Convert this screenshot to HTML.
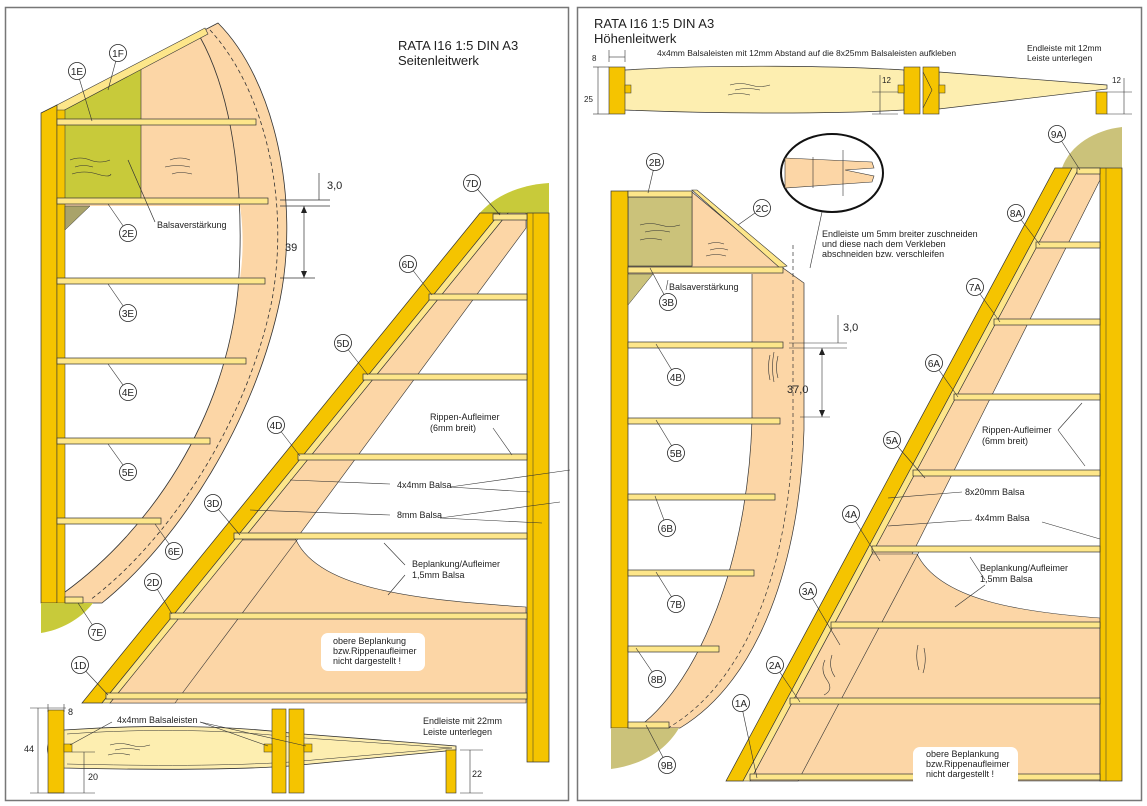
<!DOCTYPE html>
<html><head><meta charset="utf-8"><style>
html,body{margin:0;padding:0;background:#fff}
svg{display:block}
text{font-family:"Liberation Sans",sans-serif;fill:#222}
.l{font-size:9px}
.c{font-size:10px;text-anchor:middle}
</style></head><body>
<svg width="1147" height="806" viewBox="0 0 1147 806" xmlns="http://www.w3.org/2000/svg">
<defs>
<g id="ci"><circle r="8.5" fill="#fff" stroke="#222" stroke-width="0.8"/></g>
</defs>
<rect x="5.5" y="7.5" width="563" height="793" fill="#fff" stroke="#777" stroke-width="1.5"/>
<rect x="577.5" y="7.5" width="564" height="793" fill="#fff" stroke="#777" stroke-width="1.5"/>

<!-- ===== LEFT PANEL: FIN ===== -->
<text x="398" y="50" style="font-size:13px">RATA I16 1:5  DIN A3</text>
<text x="398" y="65" style="font-size:13px">Seitenleitwerk</text>

<path d="M57,107 L218,23 C275,80 300,200 280,300 C255,420 180,540 102,603 L57,603 Z" fill="#fcd6a6" stroke="#333" stroke-width="0.8"/>
<path d="M65,206 L240,206 C245,240 242,270 238,290 C225,420 150,530 65,592 Z" fill="#fff"/>
<path d="M200,37 C235,100 245,200 238,290 C225,420 150,530 65,592" fill="none" stroke="#333" stroke-width="0.8"/>
<path d="M210,30 C265,90 290,200 272,300 C248,420 170,540 90,600" fill="none" stroke="#333" stroke-width="0.8" stroke-dasharray="4,3"/>
<polygon points="57,112 141,68 141,200 57,200" fill="#c8ca3a" stroke="#333" stroke-width="0.6"/>
<polygon points="55,106 205,28 208,34 57,114" fill="#fde68a" stroke="#333" stroke-width="0.6"/>
<polygon points="41,113 57,105 57,603 41,603" fill="#f5c400" stroke="#333" stroke-width="0.7"/>
<rect x="57" y="110" width="8" height="493" fill="#f5c400" stroke="#333" stroke-width="0.5"/>
<polygon points="65,206 90,206 65,230" fill="#a9a36a" stroke="#333" stroke-width="0.5"/>
<path d="M41,603 L93,603 C80,620 60,630 41,633 Z" fill="#c8ca3a"/>
<g fill="#fde68a" stroke="#333" stroke-width="0.7">
<rect x="57" y="119" width="199" height="6"/>
<rect x="57" y="198" width="211" height="6"/>
<rect x="57" y="278" width="208" height="6"/>
<rect x="57" y="358" width="189" height="6"/>
<rect x="57" y="438" width="153" height="6"/>
<rect x="57" y="518" width="104" height="6"/>
<rect x="65" y="597" width="18" height="6"/>
</g>
<g fill="none" stroke="#333" stroke-width="0.6">
<path d="M70,160 q10,-4 20,0 t20,0 M75,167 q8,-3 18,0 M72,174 q12,-4 25,0 t14,0 M170,160 q10,-4 20,0 M165,167 q12,-3 25,0 M172,174 q8,-3 20,0"/>
</g>
<text x="157" y="228" class="l">Balsaverstärkung</text>
<g stroke="#333" stroke-width="0.7" fill="none">
<line x1="128" y1="160" x2="155" y2="222"/>
<line x1="280" y1="200" x2="330" y2="200"/><line x1="280" y1="206" x2="330" y2="206"/>
<line x1="319" y1="173" x2="319" y2="200"/>
<line x1="304" y1="206" x2="304" y2="278"/><line x1="280" y1="278" x2="315" y2="278"/>
</g>
<path d="M304,206 l-3,7 h6 Z M304,278 l-3,-7 h6 Z" fill="#222"/>
<text x="327" y="189" style="font-size:11px">3,0</text>
<text x="285" y="251" style="font-size:11px">39</text>

<!-- leaders and circles fin -->
<g stroke="#333" stroke-width="0.6">
<line x1="118" y1="53" x2="108" y2="90"/><line x1="77" y1="71" x2="92" y2="121"/>
<line x1="128" y1="233" x2="108" y2="204"/><line x1="128" y1="313" x2="108" y2="284"/>
<line x1="128" y1="392" x2="108" y2="364"/><line x1="128" y1="472" x2="108" y2="444"/>
<line x1="174" y1="551" x2="155" y2="524"/><line x1="97" y1="632" x2="78" y2="603"/>
</g>
<use href="#ci" x="118" y="53"/><text x="118" y="57" class="c">1F</text>
<use href="#ci" x="77" y="71"/><text x="77" y="75" class="c">1E</text>
<use href="#ci" x="128" y="233"/><text x="128" y="237" class="c">2E</text>
<use href="#ci" x="128" y="313"/><text x="128" y="317" class="c">3E</text>
<use href="#ci" x="128" y="392"/><text x="128" y="396" class="c">4E</text>
<use href="#ci" x="128" y="472"/><text x="128" y="476" class="c">5E</text>
<use href="#ci" x="174" y="551"/><text x="174" y="555" class="c">6E</text>
<use href="#ci" x="97" y="632"/><text x="97" y="636" class="c">7E</text>

<!-- ===== LEFT PANEL: RUDDER ===== -->
<path d="M478,215 C495,195 520,185 549,183 L549,215 Z" fill="#c8ca3a"/>
<polygon points="110,703 175,703 526,228 526,213 508,213" fill="#fcd6a6" stroke="#333" stroke-width="0.6"/>
<path d="M242,540 L296,540 C320,590 420,600 526,607 L526,703 L110,703 Z" fill="#fcd6a6" stroke="#333" stroke-width="0.6"/>
<line x1="175" y1="703" x2="300" y2="536" stroke="#333" stroke-width="0.6"/>
<polygon points="82,703 102,703 500,213 480,213" fill="#f5c400" stroke="#333" stroke-width="0.7"/>
<polygon points="102,703 110,703 508,213 500,213" fill="#fde68a" stroke="#333" stroke-width="0.6"/>
<rect x="527" y="213" width="22" height="549" fill="#f5c400" stroke="#333" stroke-width="0.7"/>
<line x1="533" y1="213" x2="533" y2="762" stroke="#333" stroke-width="0.5"/>
<g fill="#fde68a" stroke="#333" stroke-width="0.7">
<rect x="493" y="214" width="34" height="6"/>
<rect x="429" y="294" width="98" height="6"/>
<rect x="363" y="374" width="164" height="6"/>
<rect x="298" y="454" width="229" height="6"/>
<rect x="234" y="533" width="293" height="6"/>
<rect x="170" y="613" width="357" height="6"/>
<rect x="106" y="693" width="421" height="6"/>
</g>
<g stroke="#333" stroke-width="0.6">
<line x1="472" y1="183" x2="500" y2="215"/><line x1="408" y1="264" x2="432" y2="295"/>
<line x1="343" y1="343" x2="368" y2="375"/><line x1="276" y1="425" x2="300" y2="456"/>
<line x1="213" y1="503" x2="240" y2="535"/><line x1="153" y1="582" x2="172" y2="614"/>
<line x1="80" y1="665" x2="108" y2="695"/>
<line x1="493" y1="428" x2="512" y2="455"/>
<line x1="290" y1="480" x2="390" y2="484"/><line x1="450" y1="487" x2="530" y2="492"/><line x1="450" y1="487" x2="570" y2="470"/>
<line x1="250" y1="510" x2="390" y2="515"/><line x1="440" y1="518" x2="542" y2="523"/><line x1="440" y1="518" x2="560" y2="502"/>
<line x1="384" y1="543" x2="405" y2="565"/><line x1="405" y1="575" x2="388" y2="595"/>
</g>
<use href="#ci" x="472" y="183"/><text x="472" y="187" class="c">7D</text>
<use href="#ci" x="408" y="264"/><text x="408" y="268" class="c">6D</text>
<use href="#ci" x="343" y="343"/><text x="343" y="347" class="c">5D</text>
<use href="#ci" x="276" y="425"/><text x="276" y="429" class="c">4D</text>
<use href="#ci" x="213" y="503"/><text x="213" y="507" class="c">3D</text>
<use href="#ci" x="153" y="582"/><text x="153" y="586" class="c">2D</text>
<use href="#ci" x="80" y="665"/><text x="80" y="669" class="c">1D</text>
<text x="430" y="420" class="l">Rippen-Aufleimer</text>
<text x="430" y="431" class="l">(6mm breit)</text>
<text x="397" y="488" class="l">4x4mm Balsa</text>
<text x="397" y="518" class="l">8mm Balsa</text>
<text x="412" y="567" class="l">Beplankung/Aufleimer</text>
<text x="412" y="578" class="l">1,5mm Balsa</text>
<rect x="321" y="633" width="104" height="38" rx="7" fill="#fff"/>
<text x="333" y="644" class="l">obere Beplankung</text>
<text x="333" y="654" class="l">bzw.Rippenaufleimer</text>
<text x="333" y="664" class="l">nicht dargestellt !</text>

<!-- bottom airfoil left -->
<path d="M64,730 C150,724 230,726 290,733 L456,746 L456,750 L290,766 C230,770 150,770 64,768 C42,760 42,738 64,730 Z" fill="#fdeeb0" stroke="#333" stroke-width="0.8"/>
<path d="M67,734 C150,728 230,730 290,737 L452,748 L290,762 C230,766 150,766 67,764" fill="none" stroke="#333" stroke-width="0.5"/>
<rect x="48" y="710" width="16" height="83" fill="#f5c400" stroke="#333" stroke-width="0.6"/>
<rect x="64" y="744" width="8" height="8" fill="#f5c400" stroke="#333" stroke-width="0.5"/>
<rect x="272" y="709" width="14" height="84" fill="#f5c400" stroke="#333" stroke-width="0.6"/>
<rect x="289" y="709" width="15" height="84" fill="#f5c400" stroke="#333" stroke-width="0.6"/>
<rect x="264" y="744" width="8" height="8" fill="#f5c400" stroke="#333" stroke-width="0.5"/>
<rect x="304" y="744" width="8" height="8" fill="#f5c400" stroke="#333" stroke-width="0.5"/>
<rect x="446" y="750" width="10" height="43" fill="#f5c400" stroke="#333" stroke-width="0.6"/>
<g stroke="#333" stroke-width="0.6" fill="none">
<path d="M110,745 q10,-3 20,0 t20,0 M115,750 q12,-3 25,0 M108,755 q10,-3 22,0"/>
<line x1="30" y1="708" x2="48" y2="708"/><line x1="30" y1="793" x2="95" y2="793"/>
<line x1="38" y1="708" x2="38" y2="793"/>
<line x1="48" y1="704" x2="48" y2="712"/><line x1="64" y1="704" x2="64" y2="712"/><line x1="48" y1="708" x2="66" y2="708"/>
<line x1="72" y1="752" x2="95" y2="752"/><line x1="84" y1="752" x2="84" y2="793"/>
<line x1="460" y1="750" x2="483" y2="750"/><line x1="460" y1="793" x2="483" y2="793"/><line x1="470" y1="750" x2="470" y2="793"/>
<line x1="112" y1="722" x2="70" y2="745"/><line x1="200" y1="722" x2="268" y2="746"/><line x1="200" y1="722" x2="306" y2="746"/>
</g>
<text x="24" y="752" class="l">44</text>
<text x="68" y="715" class="l">8</text>
<text x="88" y="780" class="l">20</text>
<text x="472" y="777" class="l">22</text>
<text x="117" y="723" class="l">4x4mm Balsaleisten</text>
<text x="423" y="724" class="l">Endleiste mit 22mm</text>
<text x="423" y="735" class="l">Leiste unterlegen</text>

<!-- ===== RIGHT PANEL ===== -->
<text x="594" y="28" style="font-size:13px">RATA I16 1:5  DIN A3</text>
<text x="594" y="43" style="font-size:13px">Höhenleitwerk</text>
<text x="657" y="56" style="font-size:8.5px">4x4mm Balsaleisten mit 12mm Abstand auf die 8x25mm Balsaleisten aufkleben</text>
<text x="1027" y="51" style="font-size:8.5px">Endleiste mit 12mm</text>
<text x="1027" y="61" style="font-size:8.5px">Leiste unterlegen</text>

<!-- top airfoil right -->
<path d="M625,70 C720,64 840,66 904,70 L904,110 C840,114 720,114 625,110 C605,100 605,80 625,70 Z" fill="#fdeeb0" stroke="#333" stroke-width="0.7"/>
<path d="M939,72 L1107,85 L1107,89 L939,109 Z" fill="#fdeeb0" stroke="#333" stroke-width="0.7"/>
<rect x="609" y="67" width="16" height="47" fill="#f5c400" stroke="#333" stroke-width="0.6"/>
<rect x="625" y="85" width="6" height="8" fill="#f5c400" stroke="#333" stroke-width="0.5"/>
<rect x="904" y="67" width="16" height="47" fill="#f5c400" stroke="#333" stroke-width="0.6"/>
<rect x="923" y="67" width="16" height="47" fill="#f5c400" stroke="#333" stroke-width="0.6"/>
<rect x="898" y="85" width="6" height="8" fill="#f5c400" stroke="#333" stroke-width="0.5"/>
<rect x="939" y="85" width="6" height="8" fill="#f5c400" stroke="#333" stroke-width="0.5"/>
<path d="M923,72 L932,90 L923,108" fill="none" stroke="#333" stroke-width="0.6"/>
<rect x="1096" y="92" width="11" height="22" fill="#f5c400" stroke="#333" stroke-width="0.6"/>
<g stroke="#333" stroke-width="0.6" fill="none">
<path d="M730,85 q10,-3 20,0 t20,0 M735,90 q12,-3 25,0 M728,95 q10,-3 22,0"/>
<line x1="609" y1="50" x2="609" y2="62"/><line x1="625" y1="50" x2="625" y2="62"/><line x1="609" y1="57" x2="625" y2="57"/>
<line x1="593" y1="67" x2="609" y2="67"/><line x1="593" y1="114" x2="609" y2="114"/><line x1="598" y1="67" x2="598" y2="114"/>
<line x1="872" y1="92" x2="898" y2="92"/><line x1="872" y1="114" x2="898" y2="114"/><line x1="880" y1="75" x2="880" y2="114"/>
<line x1="1107" y1="92" x2="1132" y2="92"/><line x1="1107" y1="114" x2="1132" y2="114"/><line x1="1124" y1="78" x2="1124" y2="114"/>
</g>
<text x="592" y="61" style="font-size:8px">8</text>
<text x="584" y="102" style="font-size:8px">25</text>
<text x="882" y="83" style="font-size:8px">12</text>
<text x="1112" y="83" style="font-size:8px">12</text>

<!-- circle detail -->
<ellipse cx="832" cy="173" rx="51" ry="39" fill="#fff" stroke="#111" stroke-width="2"/>
<polygon points="785,158 872,162 874,168 845,170 874,176 872,182 785,188" fill="#fcd6a6" stroke="#333" stroke-width="0.6"/>
<line x1="813" y1="157" x2="813" y2="188" stroke="#333" stroke-width="0.6"/>
<line x1="843" y1="150" x2="843" y2="196" stroke="#333" stroke-width="0.6"/>
<line x1="822" y1="212" x2="810" y2="268" stroke="#333" stroke-width="0.6"/>
<text x="822" y="237" class="l">Endleiste um 5mm breiter zuschneiden</text>
<text x="822" y="247" class="l">und diese nach dem Verkleben</text>
<text x="822" y="257" class="l">abschneiden bzw. verschleifen</text>

<!-- elevator B -->
<path d="M692,192 L783,268 L804,283 L804,430 C800,560 760,680 680,728 L628,728 L628,266 L692,266 Z" fill="#fcd6a6" stroke="#333" stroke-width="0.7"/>
<path d="M628,274 L752,274 L752,420 C748,560 700,680 640,726 L628,726 Z" fill="#fff"/>
<path d="M752,274 L752,420 C748,560 700,680 640,726" fill="none" stroke="#333" stroke-width="0.7"/>
<path d="M793,245 L793,430 C790,560 750,680 668,728" fill="none" stroke="#333" stroke-width="0.7" stroke-dasharray="4,3"/>
<rect x="628" y="197" width="64" height="69" fill="#cbc27a" stroke="#333" stroke-width="0.6"/>
<polygon points="692,190 697,190 787,266 780,268" fill="#fde68a" stroke="#333" stroke-width="0.6"/>
<rect x="611" y="191" width="17" height="537" fill="#f5c400" stroke="#333" stroke-width="0.7"/>
<polygon points="628,274 653,274 628,305" fill="#cbc27a" stroke="#333" stroke-width="0.5"/>
<path d="M611,728 L679,728 C665,752 640,765 611,769 Z" fill="#cbc27a"/>
<g fill="#fde68a" stroke="#333" stroke-width="0.7">
<rect x="628" y="191" width="64" height="6"/>
<rect x="628" y="267" width="155" height="6"/>
<rect x="628" y="342" width="155" height="6"/>
<rect x="628" y="418" width="152" height="6"/>
<rect x="628" y="494" width="147" height="6"/>
<rect x="628" y="570" width="126" height="6"/>
<rect x="628" y="646" width="91" height="6"/>
<rect x="628" y="722" width="41" height="6"/>
</g>
<g stroke="#333" stroke-width="0.6" fill="none">
<path d="M640,225 q10,-3 20,0 t20,0 M645,232 q12,-3 25,0 M640,240 q10,-3 22,0 M708,244 q8,-3 16,0 M710,250 q10,-3 18,0 M706,256 q10,-3 20,0"/>
<path d="M770,355 q-3,12 0,25 M774,352 q-3,15 0,30 M778,356 q-3,12 0,22"/>
<line x1="789" y1="343" x2="847" y2="343"/><line x1="789" y1="348" x2="847" y2="348"/>
<line x1="838" y1="315" x2="838" y2="343"/>
<line x1="822" y1="348" x2="822" y2="417"/><line x1="800" y1="417" x2="830" y2="417"/>
<line x1="655" y1="163" x2="648" y2="193"/><line x1="762" y1="208" x2="738" y2="225"/>
<line x1="668" y1="302" x2="650" y2="268"/><line x1="676" y1="377" x2="656" y2="344"/>
<line x1="676" y1="453" x2="656" y2="420"/><line x1="667" y1="528" x2="655" y2="496"/>
<line x1="676" y1="604" x2="656" y2="572"/><line x1="657" y1="679" x2="636" y2="648"/>
<line x1="667" y1="765" x2="646" y2="725"/>
<line x1="668" y1="280" x2="666" y2="290"/>
</g>
<path d="M822,348 l-3,7 h6 Z M822,417 l-3,-7 h6 Z" fill="#222"/>
<text x="843" y="331" style="font-size:11px">3,0</text>
<text x="787" y="393" style="font-size:11px">37,0</text>
<text x="669" y="290" class="l">Balsaverstärkung</text>
<use href="#ci" x="655" y="162"/><text x="655" y="166" class="c">2B</text>
<use href="#ci" x="762" y="208"/><text x="762" y="212" class="c">2C</text>
<use href="#ci" x="668" y="302"/><text x="668" y="306" class="c">3B</text>
<use href="#ci" x="676" y="377"/><text x="676" y="381" class="c">4B</text>
<use href="#ci" x="676" y="453"/><text x="676" y="457" class="c">5B</text>
<use href="#ci" x="667" y="528"/><text x="667" y="532" class="c">6B</text>
<use href="#ci" x="676" y="604"/><text x="676" y="608" class="c">7B</text>
<use href="#ci" x="657" y="679"/><text x="657" y="683" class="c">8B</text>
<use href="#ci" x="667" y="765"/><text x="667" y="769" class="c">9B</text>

<!-- stabilizer A -->
<path d="M1062,168 C1070,145 1095,130 1122,127 L1122,168 Z" fill="#cbc27a"/>
<polygon points="750,781 798,781 1100,180 1100,168 1079,168" fill="#fcd6a6" stroke="#333" stroke-width="0.6"/>
<path d="M872,554 L917,554 C940,600 1020,612 1100,618 L1100,781 L750,781 Z" fill="#fcd6a6" stroke="#333" stroke-width="0.6"/>
<line x1="798" y1="781" x2="920" y2="550" stroke="#333" stroke-width="0.6"/>
<polygon points="726,781 743,781 1072,168 1055,168" fill="#f5c400" stroke="#333" stroke-width="0.7"/>
<polygon points="743,781 750,781 1079,168 1072,168" fill="#fde68a" stroke="#333" stroke-width="0.6"/>
<rect x="1100" y="168" width="22" height="613" fill="#f5c400" stroke="#333" stroke-width="0.7"/>
<line x1="1106" y1="168" x2="1106" y2="781" stroke="#333" stroke-width="0.5"/>
<g fill="#fde68a" stroke="#333" stroke-width="0.7">
<rect x="1077" y="168" width="23" height="6"/>
<rect x="1036" y="242" width="64" height="6"/>
<rect x="994" y="319" width="106" height="6"/>
<rect x="954" y="394" width="146" height="6"/>
<rect x="913" y="470" width="187" height="6"/>
<rect x="872" y="546" width="228" height="6"/>
<rect x="831" y="622" width="269" height="6"/>
<rect x="790" y="698" width="310" height="6"/>
<rect x="750" y="774" width="350" height="6"/>
</g>
<g stroke="#333" stroke-width="0.6" fill="none">
<path d="M825,660 q-5,10 2,20 t-3,15 M832,655 q-4,12 3,22 M918,645 q-3,12 1,25 M924,648 q3,12 -1,25"/>
<line x1="1057" y1="134" x2="1080" y2="170"/><line x1="1016" y1="213" x2="1040" y2="245"/>
<line x1="975" y1="287" x2="1000" y2="322"/><line x1="934" y1="363" x2="958" y2="397"/>
<line x1="892" y1="440" x2="925" y2="478"/><line x1="851" y1="514" x2="880" y2="561"/>
<line x1="808" y1="591" x2="840" y2="645"/><line x1="775" y1="665" x2="800" y2="702"/>
<line x1="741" y1="703" x2="757" y2="778"/>
<line x1="1058" y1="430" x2="1082" y2="403"/><line x1="1058" y1="430" x2="1085" y2="466"/>
<line x1="888" y1="498" x2="962" y2="492"/>
<line x1="888" y1="526" x2="972" y2="520"/><line x1="1042" y1="522" x2="1100" y2="539"/>
<line x1="970" y1="557" x2="985" y2="580"/><line x1="985" y1="585" x2="955" y2="607"/>
</g>
<text x="982" y="433" class="l">Rippen-Aufleimer</text>
<text x="982" y="444" class="l">(6mm breit)</text>
<text x="965" y="495" class="l">8x20mm Balsa</text>
<text x="975" y="521" class="l">4x4mm Balsa</text>
<text x="980" y="571" class="l">Beplankung/Aufleimer</text>
<text x="980" y="582" class="l">1,5mm Balsa</text>
<rect x="913" y="747" width="105" height="40" rx="7" fill="#fff"/>
<text x="926" y="757" class="l">obere Beplankung</text>
<text x="926" y="767" class="l">bzw.Rippenaufleimer</text>
<text x="926" y="777" class="l">nicht dargestellt !</text>
<use href="#ci" x="1057" y="134"/><text x="1057" y="138" class="c">9A</text>
<use href="#ci" x="1016" y="213"/><text x="1016" y="217" class="c">8A</text>
<use href="#ci" x="975" y="287"/><text x="975" y="291" class="c">7A</text>
<use href="#ci" x="934" y="363"/><text x="934" y="367" class="c">6A</text>
<use href="#ci" x="892" y="440"/><text x="892" y="444" class="c">5A</text>
<use href="#ci" x="851" y="514"/><text x="851" y="518" class="c">4A</text>
<use href="#ci" x="808" y="591"/><text x="808" y="595" class="c">3A</text>
<use href="#ci" x="775" y="665"/><text x="775" y="669" class="c">2A</text>
<use href="#ci" x="741" y="703"/><text x="741" y="707" class="c">1A</text>
</svg>
</body></html>
